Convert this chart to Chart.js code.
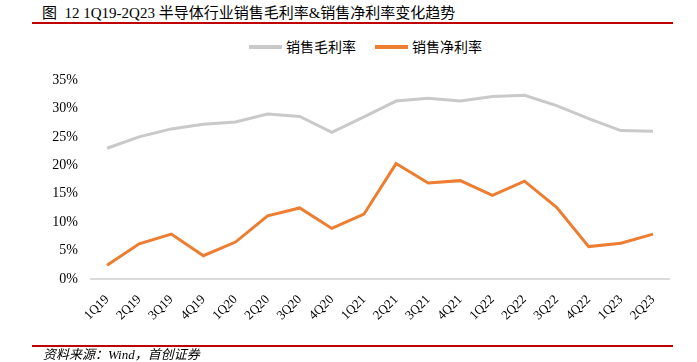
<!DOCTYPE html>
<html>
<head>
<meta charset="utf-8">
<script src="https://cdn.jsdelivr.net/npm/chart.js@4/dist/chart.umd.min.js"></script>
<style>
  html, body { margin: 0; padding: 0; background: #fff; }
  #wrap { position: relative; width: 697px; height: 362px; overflow: hidden; }
  #c { position: absolute; left: 0; top: 0; }
  .title { position: absolute; left: 42px; top: 3px; font-family: "Liberation Serif", "Noto Sans CJK SC", serif; font-size: 15px; color: #000; white-space: nowrap; line-height: 20px; }
  .rule { position: absolute; left: 32px; width: 641px; height: 2px; background: #C00000; }
  .foot { position: absolute; left: 43px; top: 347px; font-family: "Liberation Serif", "Noto Sans CJK SC", serif; font-style: italic; font-size: 13px; color: #000; white-space: nowrap; line-height: 16px; }
  .leg { position: absolute; top: 37px; font-family: "Noto Sans CJK SC", sans-serif; font-size: 14px; line-height: 18px; color: #000; white-space: nowrap; }
  .leg i { display: inline-block; width: 33px; height: 4px; vertical-align: middle; margin-right: 4px; position: relative; top: -1px; }
</style>
</head>
<body>
<div id="wrap">
  <div class="title">图&nbsp; 12 1Q19-2Q23 半导体行业销售毛利率&amp;销售净利率变化趋势</div>
  <div class="rule" style="top:22px"></div>
  <div class="leg" id="leg1" style="left:249px"><i style="background:#C9C9C9"></i><span id="l1"></span></div>
  <div class="leg" id="leg2" style="left:375px"><i style="background:#ED7D31"></i><span id="l2"></span></div>
  <canvas id="c" width="697" height="362"></canvas>
  <div class="rule" style="top:345px"></div>
  <div class="foot">资料来源：Wind，首创证券</div>
</div>
<script>
const categories = ["1Q19","2Q19","3Q19","4Q19","1Q20","2Q20","3Q20","4Q20","1Q21","2Q21","3Q21","4Q21","1Q22","2Q22","3Q22","4Q22","1Q23","2Q23"];
const seriesNames = ["销售毛利率", "销售净利率"];
const grossMargin = [23.0, 25.0, 26.4, 27.2, 27.6, 29.0, 28.6, 25.8, 28.5, 31.3, 31.8, 31.3, 32.1, 32.3, 30.5, 28.2, 26.1, 26.0];
const netMargin = [2.4, 6.2, 7.9, 4.1, 6.5, 11.1, 12.5, 8.9, 11.4, 20.3, 16.9, 17.3, 14.7, 17.2, 12.6, 5.7, 6.3, 7.9];
const yTicks = [0, 5, 10, 15, 20, 25, 30, 35];

document.getElementById('l1').textContent = seriesNames[0];
document.getElementById('l2').textContent = seriesNames[1];

new Chart(document.getElementById('c'), {
  type: 'line',
  data: {
    labels: categories,
    datasets: [
      { label: seriesNames[0], data: grossMargin, borderColor: '#C9C9C9', borderWidth: 3, pointRadius: 0, tension: 0, fill: false },
      { label: seriesNames[1], data: netMargin, borderColor: '#ED7D31', borderWidth: 3, pointRadius: 0, tension: 0, fill: false }
    ]
  },
  options: {
    responsive: false,
    animation: false,
    layout: { padding: { left: 0, right: 28, top: 80, bottom: 0 } },
    plugins: { legend: { display: false }, tooltip: { enabled: false } },
    scales: {
      x: {
        offset: true,
        grid: { display: false, drawTicks: false },
        border: { display: true, color: '#D9D9D9', width: 2 },
        ticks: { minRotation: 45, maxRotation: 45, padding: 13, color: '#000', font: { family: 'Liberation Serif', size: 13 } },
        afterFit: (s) => { s.height = 83; }
      },
      y: {
        min: 0, max: 35,
        afterBuildTicks: (s) => { s.ticks = yTicks.map(v => ({ value: v })); },
        grid: { display: false, drawTicks: false },
        border: { display: false },
        ticks: { padding: 13, color: '#000', font: { family: 'Liberation Serif', size: 14 }, callback: (v) => v + '%' },
        afterFit: (s) => { s.width = 91; }
      }
    }
  }
});
</script>
</body>
</html>
